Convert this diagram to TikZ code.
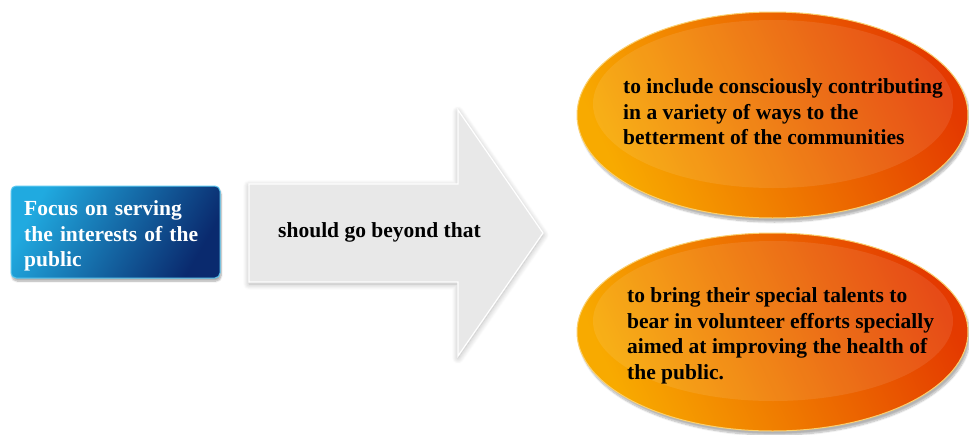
\documentclass[tikz,border=0pt]{standalone}
\usepackage{fontspec}
\setmainfont{Liberation Serif}
\usetikzlibrary{shapes.geometric,shadows.blur}
\definecolor{blueA}{HTML}{20AAE0}
\definecolor{blueB}{HTML}{0A2A6E}
\definecolor{blueRim}{HTML}{5CC8F0}
\definecolor{oraA}{HTML}{F8AA00}
\definecolor{oraB}{HTML}{E43A00}
\definecolor{oraRim}{HTML}{FAD070}
\definecolor{arrowgray}{HTML}{E8E8E8}
\begin{document}
\begin{tikzpicture}[x=1pt,y=-1pt,
  bigtext/.style={font=\fontsize{21.5}{25.5}\selectfont\bfseries, align=left, inner sep=0pt},
  bluebox/.style={rectangle, rounded corners=5pt, minimum width=209pt, minimum height=92pt,
    inner sep=0pt, draw=blueRim, line width=1pt,
    left color=blueA, right color=blueB, shading angle=60,
    blur shadow={shadow xshift=1pt, shadow yshift=-3pt, shadow blur steps=8, shadow opacity=35}},
  arrowshape/.style={fill=arrowgray, draw=white, line width=1.2pt,
    blur shadow={shadow xshift=0pt, shadow yshift=-2pt, shadow blur radius=6pt, shadow blur steps=10, shadow opacity=30, shadow scale=1.0}},
  ovalshape/.style={ellipse, minimum width=391pt, inner sep=0pt, draw=oraRim, line width=1pt,
    left color=oraA, right color=oraB, shading angle=115,
    blur shadow={shadow xshift=2pt, shadow yshift=-4pt, shadow blur steps=8, shadow opacity=30}},
  gloss/.style={fill=white, opacity=0.09},
]
\useasboundingbox (0,0) rectangle (969,434);

% left box
\node[bluebox] (focus) at (115.5,232) {};
\node[bigtext, anchor=west, text=white, text width=190pt] (focustext) at (24,236) {Focus on serving the interests of the public};

% big arrow
\path[arrowshape] (249,184) -- (458,184) -- (458,110) -- (543,233) -- (458,356)
  -- (458,282) -- (249,282) -- cycle;
\node[bigtext] (beyond) at (379.5,232) {should go beyond that};

% upper oval
\node[ovalshape, minimum height=206pt] (o1) at (772.5,115) {};
\fill[gloss] (773,104) ellipse [x radius=180pt, y radius=84pt];
\node[bigtext, anchor=west] (t1) at (623,112) {to include consciously contributing\\in a variety of ways to the\\betterment of the communities};

% lower oval
\node[ovalshape, minimum height=198pt] (o2) at (772.5,332) {};
\fill[gloss] (773,321) ellipse [x radius=180pt, y radius=80pt];
\node[bigtext, anchor=west] (t2) at (627,336) {to bring their special talents to\\bear in volunteer efforts specially\\aimed at improving the health of\\the public.};
\end{tikzpicture}
\end{document}
